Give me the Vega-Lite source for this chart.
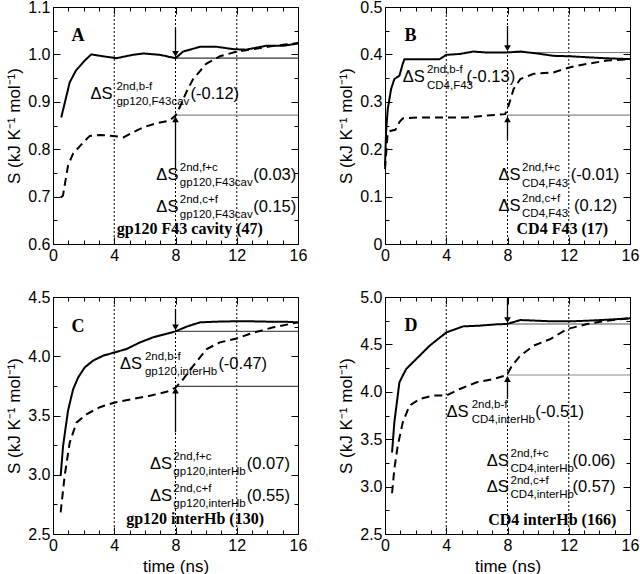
{
"$schema":"https://vega.github.io/schema/vega-lite/v6.json",
"padding":{"left":5,"top":-2,"right":0,"bottom":0},
"config":{"view":{"stroke":"black","strokeWidth":1},
"axis":{"grid":false,"domainColor":"black","tickColor":"black","labelColor":"black","labelFont":"Liberation Sans","labelFontSize":16,"titleFont":"Liberation Sans","titleFontSize":17,"titleFontWeight":"normal","titleColor":"black","domainWidth":1,"tickWidth":1,"labelOverlap":false,"labelBound":false,"labelFlush":false}},
"datasets":{
"vr":[{"t":4},{"t":8},{"t":12}],
"hl":[{"p":"A","k":"upper","t":8,"t2":16,"s":0.992},{"p":"A","k":"lower","t":8,"t2":16,"s":0.872},
{"p":"B","k":"upper","t":8,"t2":16,"s":0.404},{"p":"B","k":"lower","t":8,"t2":16,"s":0.272},
{"p":"C","k":"upper","t":8,"t2":16,"s":4.21},{"p":"C","k":"lower","t":8,"t2":16,"s":3.745},
{"p":"D","k":"upper","t":8,"t2":16,"s":4.715},{"p":"D","k":"lower","t":8,"t2":16,"s":4.177}],
"arr":[{"p":"A","dir":"down","t":8,"s":1.057,"s2":1.001},{"p":"A","dir":"up","t":8,"s":0.758,"s2":0.863},
{"p":"B","dir":"down","t":8,"s":0.46,"s2":0.413},{"p":"B","dir":"up","t":8,"s":0.221,"s2":0.263},
{"p":"C","dir":"down","t":8,"s":4.4,"s2":4.244},{"p":"C","dir":"up","t":8,"s":3.358,"s2":3.71},
{"p":"D","dir":"down","t":8,"s":4.98,"s2":4.757},{"p":"D","dir":"up","t":8,"s":3.924,"s2":4.135}],
"curves":[
{"p":"A","k":"solid","t":0.54,"s":0.867},{"p":"A","k":"solid","t":1.09,"s":0.941},{"p":"A","k":"solid","t":1.5,"s":0.966},{"p":"A","k":"solid","t":2.07,"s":0.987},{"p":"A","k":"solid","t":2.5,"s":1.0},{"p":"A","k":"solid","t":3.27,"s":0.996},{"p":"A","k":"solid","t":4.14,"s":0.992},{"p":"A","k":"solid","t":5.2,"s":0.999},{"p":"A","k":"solid","t":5.9,"s":1.002},{"p":"A","k":"solid","t":7.0,"s":0.999},{"p":"A","k":"solid","t":8.0,"s":0.992},{"p":"A","k":"solid","t":8.5,"s":1.006},{"p":"A","k":"solid","t":9.6,"s":1.016},{"p":"A","k":"solid","t":10.7,"s":1.016},{"p":"A","k":"solid","t":11.8,"s":1.011},{"p":"A","k":"solid","t":12.6,"s":1.01},{"p":"A","k":"solid","t":13.9,"s":1.018},{"p":"A","k":"solid","t":15.0,"s":1.018},{"p":"A","k":"solid","t":16,"s":1.023},
{"p":"A","k":"dashed","t":0.5,"s":0.698},{"p":"A","k":"dashed","t":0.65,"s":0.702},{"p":"A","k":"dashed","t":0.98,"s":0.765},{"p":"A","k":"dashed","t":1.3,"s":0.79},{"p":"A","k":"dashed","t":1.96,"s":0.814},{"p":"A","k":"dashed","t":2.4,"s":0.828},{"p":"A","k":"dashed","t":3.05,"s":0.83},{"p":"A","k":"dashed","t":3.9,"s":0.828},{"p":"A","k":"dashed","t":4.6,"s":0.825},{"p":"A","k":"dashed","t":5.2,"s":0.835},{"p":"A","k":"dashed","t":5.9,"s":0.846},{"p":"A","k":"dashed","t":6.75,"s":0.855},{"p":"A","k":"dashed","t":7.6,"s":0.86},{"p":"A","k":"dashed","t":8.0,"s":0.871},{"p":"A","k":"dashed","t":8.3,"s":0.89},{"p":"A","k":"dashed","t":8.7,"s":0.92},{"p":"A","k":"dashed","t":9.15,"s":0.948},{"p":"A","k":"dashed","t":10.0,"s":0.98},{"p":"A","k":"dashed","t":10.9,"s":0.996},{"p":"A","k":"dashed","t":12.0,"s":1.006},{"p":"A","k":"dashed","t":13.1,"s":1.011},{"p":"A","k":"dashed","t":14.4,"s":1.018},{"p":"A","k":"dashed","t":16,"s":1.024},
{"p":"B","k":"solid","t":0,"s":0.165},{"p":"B","k":"solid","t":0.07,"s":0.236},{"p":"B","k":"solid","t":0.18,"s":0.285},{"p":"B","k":"solid","t":0.4,"s":0.327},{"p":"B","k":"solid","t":0.61,"s":0.348},{"p":"B","k":"solid","t":0.94,"s":0.355},{"p":"B","k":"solid","t":1.16,"s":0.38},{"p":"B","k":"solid","t":1.27,"s":0.39},{"p":"B","k":"solid","t":1.8,"s":0.39},{"p":"B","k":"solid","t":2.7,"s":0.39},{"p":"B","k":"solid","t":3.57,"s":0.39},{"p":"B","k":"solid","t":4.0,"s":0.399},{"p":"B","k":"solid","t":4.9,"s":0.401},{"p":"B","k":"solid","t":5.77,"s":0.406},{"p":"B","k":"solid","t":6.6,"s":0.404},{"p":"B","k":"solid","t":7.96,"s":0.404},{"p":"B","k":"solid","t":8.84,"s":0.406},{"p":"B","k":"solid","t":9.93,"s":0.402},{"p":"B","k":"solid","t":11.0,"s":0.397},{"p":"B","k":"solid","t":12.1,"s":0.396},{"p":"B","k":"solid","t":13.2,"s":0.394},{"p":"B","k":"solid","t":14.3,"s":0.392},{"p":"B","k":"solid","t":16,"s":0.39},
{"p":"B","k":"dashed","t":0,"s":0.158},{"p":"B","k":"dashed","t":0.18,"s":0.236},{"p":"B","k":"dashed","t":0.4,"s":0.239},{"p":"B","k":"dashed","t":0.68,"s":0.241},{"p":"B","k":"dashed","t":0.94,"s":0.257},{"p":"B","k":"dashed","t":1.16,"s":0.265},{"p":"B","k":"dashed","t":2.26,"s":0.267},{"p":"B","k":"dashed","t":4.0,"s":0.267},{"p":"B","k":"dashed","t":5.33,"s":0.267},{"p":"B","k":"dashed","t":6.6,"s":0.271},{"p":"B","k":"dashed","t":7.85,"s":0.274},{"p":"B","k":"dashed","t":8.07,"s":0.292},{"p":"B","k":"dashed","t":8.4,"s":0.327},{"p":"B","k":"dashed","t":8.84,"s":0.348},{"p":"B","k":"dashed","t":9.7,"s":0.359},{"p":"B","k":"dashed","t":11.0,"s":0.362},{"p":"B","k":"dashed","t":12.1,"s":0.373},{"p":"B","k":"dashed","t":13.2,"s":0.38},{"p":"B","k":"dashed","t":14.5,"s":0.387},{"p":"B","k":"dashed","t":16,"s":0.39},
{"p":"C","k":"solid","t":0.5,"s":2.99},{"p":"C","k":"solid","t":0.66,"s":3.245},{"p":"C","k":"solid","t":0.98,"s":3.54},{"p":"C","k":"solid","t":1.31,"s":3.72},{"p":"C","k":"solid","t":1.64,"s":3.82},{"p":"C","k":"solid","t":2.07,"s":3.906},{"p":"C","k":"solid","t":2.62,"s":3.963},{"p":"C","k":"solid","t":3.28,"s":4.005},{"p":"C","k":"solid","t":4.04,"s":4.033},{"p":"C","k":"solid","t":4.8,"s":4.061},{"p":"C","k":"solid","t":5.68,"s":4.117},{"p":"C","k":"solid","t":6.55,"s":4.16},{"p":"C","k":"solid","t":7.42,"s":4.19},{"p":"C","k":"solid","t":8.0,"s":4.21},{"p":"C","k":"solid","t":8.73,"s":4.25},{"p":"C","k":"solid","t":9.6,"s":4.286},{"p":"C","k":"solid","t":10.7,"s":4.292},{"p":"C","k":"solid","t":11.8,"s":4.295},{"p":"C","k":"solid","t":12.9,"s":4.295},{"p":"C","k":"solid","t":14.0,"s":4.292},{"p":"C","k":"solid","t":15.1,"s":4.292},{"p":"C","k":"solid","t":16,"s":4.286},
{"p":"C","k":"dashed","t":0.5,"s":2.683},{"p":"C","k":"dashed","t":0.76,"s":2.99},{"p":"C","k":"dashed","t":1.09,"s":3.27},{"p":"C","k":"dashed","t":1.53,"s":3.44},{"p":"C","k":"dashed","t":2.18,"s":3.51},{"p":"C","k":"dashed","t":3.06,"s":3.57},{"p":"C","k":"dashed","t":4.04,"s":3.61},{"p":"C","k":"dashed","t":5.24,"s":3.64},{"p":"C","k":"dashed","t":6.33,"s":3.667},{"p":"C","k":"dashed","t":7.42,"s":3.7},{"p":"C","k":"dashed","t":8.0,"s":3.735},{"p":"C","k":"dashed","t":8.4,"s":3.79},{"p":"C","k":"dashed","t":9.17,"s":3.92},{"p":"C","k":"dashed","t":10.04,"s":4.061},{"p":"C","k":"dashed","t":10.9,"s":4.117},{"p":"C","k":"dashed","t":12.0,"s":4.15},{"p":"C","k":"dashed","t":13.1,"s":4.2},{"p":"C","k":"dashed","t":14.4,"s":4.244},{"p":"C","k":"dashed","t":16,"s":4.286},
{"p":"D","k":"solid","t":0.46,"s":3.36},{"p":"D","k":"solid","t":0.61,"s":3.678},{"p":"D","k":"solid","t":0.94,"s":4.1},{"p":"D","k":"solid","t":1.38,"s":4.24},{"p":"D","k":"solid","t":2.04,"s":4.346},{"p":"D","k":"solid","t":2.92,"s":4.487},{"p":"D","k":"solid","t":4.01,"s":4.627},{"p":"D","k":"solid","t":5.1,"s":4.69},{"p":"D","k":"solid","t":6.2,"s":4.698},{"p":"D","k":"solid","t":7.3,"s":4.712},{"p":"D","k":"solid","t":7.96,"s":4.715},{"p":"D","k":"solid","t":8.84,"s":4.757},{"p":"D","k":"solid","t":9.93,"s":4.75},{"p":"D","k":"solid","t":11.0,"s":4.743},{"p":"D","k":"solid","t":12.1,"s":4.743},{"p":"D","k":"solid","t":13.2,"s":4.75},{"p":"D","k":"solid","t":14.5,"s":4.76},{"p":"D","k":"solid","t":16,"s":4.775},
{"p":"D","k":"dashed","t":0.46,"s":2.93},{"p":"D","k":"dashed","t":0.61,"s":3.186},{"p":"D","k":"dashed","t":0.83,"s":3.43},{"p":"D","k":"dashed","t":1.16,"s":3.678},{"p":"D","k":"dashed","t":1.6,"s":3.854},{"p":"D","k":"dashed","t":2.26,"s":3.924},{"p":"D","k":"dashed","t":3.14,"s":3.96},{"p":"D","k":"dashed","t":4.01,"s":3.96},{"p":"D","k":"dashed","t":4.89,"s":4.03},{"p":"D","k":"dashed","t":5.99,"s":4.1},{"p":"D","k":"dashed","t":7.08,"s":4.135},{"p":"D","k":"dashed","t":7.96,"s":4.177},{"p":"D","k":"dashed","t":8.29,"s":4.276},{"p":"D","k":"dashed","t":8.84,"s":4.381},{"p":"D","k":"dashed","t":9.71,"s":4.487},{"p":"D","k":"dashed","t":10.8,"s":4.557},{"p":"D","k":"dashed","t":11.9,"s":4.662},{"p":"D","k":"dashed","t":13.2,"s":4.715},{"p":"D","k":"dashed","t":14.5,"s":4.75},{"p":"D","k":"dashed","t":16,"s":4.775}],
"txt":[
{"p":"A","kind":"big","t":2.45,"s":0.906,"label":"ΔS"},{"p":"A","kind":"big","t":8.98,"s":0.906,"label":"(-0.12)"},{"p":"A","kind":"big","t":6.75,"s":0.735,"label":"ΔS"},{"p":"A","kind":"big","t":13.07,"s":0.735,"label":"(0.03)"},{"p":"A","kind":"big","t":6.75,"s":0.667,"label":"ΔS"},{"p":"A","kind":"big","t":13.07,"s":0.667,"label":"(0.15)"},
{"p":"A","kind":"script","t":4.14,"s":0.925,"label":"2nd,b-f"},{"p":"A","kind":"script","t":4.14,"s":0.893,"label":"gp120,F43cav"},{"p":"A","kind":"script","t":8.28,"s":0.754,"label":"2nd,f+c"},{"p":"A","kind":"script","t":8.28,"s":0.722,"label":"gp120,F43cav"},{"p":"A","kind":"script","t":8.28,"s":0.686,"label":"2nd,c+f"},{"p":"A","kind":"script","t":8.28,"s":0.654,"label":"gp120,F43cav"},
{"p":"A","kind":"title","t":8.93,"s":0.621,"label":"gp120 F43 cavity (47)"},{"p":"A","kind":"letter","t":1.2,"s":1.029,"label":"A"},
{"p":"B","kind":"big","t":1.16,"s":0.341,"label":"ΔS"},{"p":"B","kind":"big","t":5.33,"s":0.341,"label":"(-0.13)"},{"p":"B","kind":"big","t":7.41,"s":0.134,"label":"ΔS"},{"p":"B","kind":"big","t":12.13,"s":0.134,"label":"(-0.01)"},{"p":"B","kind":"big","t":7.41,"s":0.07,"label":"ΔS"},{"p":"B","kind":"big","t":12.35,"s":0.07,"label":"(0.12)"},
{"p":"B","kind":"script","t":2.74,"s":0.36,"label":"2nd,b-f"},{"p":"B","kind":"script","t":2.74,"s":0.328,"label":"CD4,F43"},{"p":"B","kind":"script","t":8.95,"s":0.153,"label":"2nd,f+c"},{"p":"B","kind":"script","t":8.95,"s":0.121,"label":"CD4,F43"},{"p":"B","kind":"script","t":8.95,"s":0.089,"label":"2nd,c+f"},{"p":"B","kind":"script","t":8.95,"s":0.057,"label":"CD4,F43"},
{"p":"B","kind":"title","t":11.58,"s":0.021,"label":"CD4 F43 (17)"},{"p":"B","kind":"letter","t":1.27,"s":0.429,"label":"B"},
{"p":"C","kind":"big","t":4.37,"s":3.892,"label":"ΔS"},{"p":"C","kind":"big","t":10.8,"s":3.892,"label":"(-0.47)"},{"p":"C","kind":"big","t":6.33,"s":3.048,"label":"ΔS"},{"p":"C","kind":"big","t":12.66,"s":3.048,"label":"(0.07)"},{"p":"C","kind":"big","t":6.33,"s":2.78,"label":"ΔS"},{"p":"C","kind":"big","t":12.66,"s":2.78,"label":"(0.55)"},
{"p":"C","kind":"script","t":6.0,"s":3.968,"label":"2nd,b-f"},{"p":"C","kind":"script","t":6.0,"s":3.841,"label":"gp120,interHb"},{"p":"C","kind":"script","t":7.86,"s":3.124,"label":"2nd,f+c"},{"p":"C","kind":"script","t":7.86,"s":2.997,"label":"gp120,interHb"},{"p":"C","kind":"script","t":7.86,"s":2.856,"label":"2nd,c+f"},{"p":"C","kind":"script","t":7.86,"s":2.729,"label":"gp120,interHb"},
{"p":"C","kind":"title","t":9.28,"s":2.584,"label":"gp120 interHb (130)"},{"p":"C","kind":"letter","t":1.2,"s":4.207,"label":"C"},
{"p":"D","kind":"big","t":4.01,"s":3.73,"label":"ΔS"},{"p":"D","kind":"big","t":9.82,"s":3.73,"label":"(-0.51)"},{"p":"D","kind":"big","t":6.64,"s":3.217,"label":"ΔS"},{"p":"D","kind":"big","t":12.24,"s":3.217,"label":"(0.06)"},{"p":"D","kind":"big","t":6.64,"s":2.943,"label":"ΔS"},{"p":"D","kind":"big","t":12.24,"s":2.943,"label":"(0.57)"},
{"p":"D","kind":"script","t":5.66,"s":3.825,"label":"2nd,b-f"},{"p":"D","kind":"script","t":5.66,"s":3.667,"label":"CD4,interHb"},{"p":"D","kind":"script","t":8.2,"s":3.31,"label":"2nd,f+c"},{"p":"D","kind":"script","t":8.2,"s":3.154,"label":"CD4,interHb"},{"p":"D","kind":"script","t":8.2,"s":3.03,"label":"2nd,c+f"},{"p":"D","kind":"script","t":8.2,"s":2.88,"label":"CD4,interHb"},
{"p":"D","kind":"title","t":10.92,"s":2.6,"label":"CD4 interHb (166)"},{"p":"D","kind":"letter","t":1.27,"s":4.645,"label":"D"}]
},
"columns":2,
"spacing":{"row":21,"column":29},
"concat":[
{"width":245,"height":237,"resolve":{"axis":{"x":"independent","y":"independent"}},
"layer":[
{"data":{"name":"vr"},"mark":{"type":"rule","strokeDash":[2,2],"strokeWidth":1,"color":"black"},"encoding":{"x":{"field":"t","type":"quantitative","axis":{"orient":"top","title":null,"values":[0,1,2,3,4,5,6,7,8,9,10,11,12,13,14,15,16],"labels":false,"domain":false,"tickSize":{"condition":{"test":"datum.value % 4 === 0","value":-7},"value":-4}}}}},
{"data":{"name":"hl"},"transform":[{"filter":"datum.p=='A'"}],"mark":{"type":"rule","strokeWidth":1.2},"encoding":{"x":{"field":"t","type":"quantitative","axis":null},"x2":{"field":"t2"},"y":{"field":"s","type":"quantitative","axis":{"orient":"right","title":null,"values":[0.6,0.65,0.7,0.75,0.8,0.85,0.9,0.95,1,1.05,1.1],"labels":false,"domain":false,"tickSize":{"condition":{"test":"abs(datum.value*10 - round(datum.value*10)) < 1e-6","value":-7},"value":-4}}},"color":{"condition":{"test":"datum.k=='upper'","value":"#333333"},"value":"#888888"}}},
{"data":{"name":"curves"},"transform":[{"filter":"datum.p=='A'"}],"mark":{"type":"line","strokeWidth":2,"color":"black"},"encoding":{"x":{"field":"t","type":"quantitative","scale":{"domain":[0,16],"nice":false},"axis":{"orient":"bottom","title":null,"values":[0,1,2,3,4,5,6,7,8,9,10,11,12,13,14,15,16],"labelExpr":"datum.value % 4 === 0 ? datum.label : ''","tickSize":{"condition":{"test":"datum.value % 4 === 0","value":-7},"value":-4},"labelPadding":10}},"y":{"field":"s","type":"quantitative","scale":{"domain":[0.6,1.1],"nice":false,"zero":false},"axis":{"orient":"left","title":"S (kJ K⁻¹ mol⁻¹)","values":[0.6,0.65,0.7,0.75,0.8,0.85,0.9,0.95,1,1.05,1.1],"format":".1f","labelExpr":"abs(datum.value*10 - round(datum.value*10)) < 1e-6 ? datum.label : ''","tickSize":{"condition":{"test":"abs(datum.value*10 - round(datum.value*10)) < 1e-6","value":-7},"value":-4},"labelPadding":10}},"strokeDash":{"field":"k","type":"nominal","scale":{"domain":["solid","dashed"],"range":[[1,0],[8,5]]},"legend":null}}},
{"data":{"name":"arr"},"transform":[{"filter":"datum.p=='A'"}],"mark":{"type":"rule","strokeWidth":1.3,"color":"black"},"encoding":{"x":{"field":"t","type":"quantitative","axis":null},"y":{"field":"s","type":"quantitative","axis":null},"y2":{"field":"s2"}}},
{"data":{"name":"arr"},"transform":[{"filter":"datum.p=='A'"}],"mark":{"type":"point","filled":true,"color":"black","size":45,"opacity":1},"encoding":{"x":{"field":"t","type":"quantitative","axis":null},"y":{"field":"s2","type":"quantitative","axis":null},"shape":{"field":"dir","type":"nominal","scale":{"domain":["down","up"],"range":["triangle-down","triangle-up"]},"legend":null}}},
{"data":{"name":"txt"},"transform":[{"filter":"datum.p=='A' && datum.kind=='big'"}],"mark":{"type":"text","align":"left","baseline":"alphabetic","font":"Liberation Sans","fontSize":16.5,"color":"black"},"encoding":{"x":{"field":"t","type":"quantitative","axis":null},"y":{"field":"s","type":"quantitative","axis":null},"text":{"field":"label"}}},
{"data":{"name":"txt"},"transform":[{"filter":"datum.p=='A' && datum.kind=='script'"}],"mark":{"type":"text","align":"left","baseline":"alphabetic","font":"Liberation Sans","fontSize":11.5,"color":"black"},"encoding":{"x":{"field":"t","type":"quantitative","axis":null},"y":{"field":"s","type":"quantitative","axis":null},"text":{"field":"label"}}},
{"data":{"name":"txt"},"transform":[{"filter":"datum.p=='A' && datum.kind=='title'"}],"mark":{"type":"text","align":"center","baseline":"alphabetic","font":"Liberation Serif","fontWeight":"bold","fontSize":16,"color":"black"},"encoding":{"x":{"field":"t","type":"quantitative","axis":null},"y":{"field":"s","type":"quantitative","axis":null},"text":{"field":"label"}}},
{"data":{"name":"txt"},"transform":[{"filter":"datum.p=='A' && datum.kind=='letter'"}],"mark":{"type":"text","align":"left","baseline":"alphabetic","font":"Liberation Serif","fontWeight":"bold","fontSize":18,"color":"black"},"encoding":{"x":{"field":"t","type":"quantitative","axis":null},"y":{"field":"s","type":"quantitative","axis":null},"text":{"field":"label"}}}
]},
{"width":245,"height":237,"resolve":{"axis":{"x":"independent","y":"independent"}},
"layer":[
{"data":{"name":"vr"},"mark":{"type":"rule","strokeDash":[2,2],"strokeWidth":1,"color":"black"},"encoding":{"x":{"field":"t","type":"quantitative","axis":{"orient":"top","title":null,"values":[0,1,2,3,4,5,6,7,8,9,10,11,12,13,14,15,16],"labels":false,"domain":false,"tickSize":{"condition":{"test":"datum.value % 4 === 0","value":-7},"value":-4}}}}},
{"data":{"name":"hl"},"transform":[{"filter":"datum.p=='B'"}],"mark":{"type":"rule","strokeWidth":1.2},"encoding":{"x":{"field":"t","type":"quantitative","axis":null},"x2":{"field":"t2"},"y":{"field":"s","type":"quantitative","axis":{"orient":"right","title":null,"values":[0,0.05,0.1,0.15,0.2,0.25,0.3,0.35,0.4,0.45,0.5],"labels":false,"domain":false,"tickSize":{"condition":{"test":"abs(datum.value*10 - round(datum.value*10)) < 1e-6","value":-7},"value":-4}}},"color":{"condition":{"test":"datum.k=='upper'","value":"#777777"},"value":"#888888"}}},
{"data":{"name":"curves"},"transform":[{"filter":"datum.p=='B'"}],"mark":{"type":"line","strokeWidth":2,"color":"black"},"encoding":{"x":{"field":"t","type":"quantitative","scale":{"domain":[0,16],"nice":false},"axis":{"orient":"bottom","title":null,"values":[0,1,2,3,4,5,6,7,8,9,10,11,12,13,14,15,16],"labelExpr":"datum.value % 4 === 0 ? datum.label : ''","tickSize":{"condition":{"test":"datum.value % 4 === 0","value":-7},"value":-4},"labelPadding":10}},"y":{"field":"s","type":"quantitative","scale":{"domain":[0,0.5],"nice":false,"zero":false},"axis":{"orient":"left","title":"S (kJ K⁻¹ mol⁻¹)","values":[0,0.05,0.1,0.15,0.2,0.25,0.3,0.35,0.4,0.45,0.5],"format":".1f","labelExpr":"datum.value == 0 ? '0' : (abs(datum.value*10 - round(datum.value*10)) < 1e-6 ? datum.label : '')","tickSize":{"condition":{"test":"abs(datum.value*10 - round(datum.value*10)) < 1e-6","value":-7},"value":-4},"labelPadding":10}},"strokeDash":{"field":"k","type":"nominal","scale":{"domain":["solid","dashed"],"range":[[1,0],[8,5]]},"legend":null}}},
{"data":{"name":"arr"},"transform":[{"filter":"datum.p=='B'"}],"mark":{"type":"rule","strokeWidth":1.3,"color":"black"},"encoding":{"x":{"field":"t","type":"quantitative","axis":null},"y":{"field":"s","type":"quantitative","axis":null},"y2":{"field":"s2"}}},
{"data":{"name":"arr"},"transform":[{"filter":"datum.p=='B'"}],"mark":{"type":"point","filled":true,"color":"black","size":45,"opacity":1},"encoding":{"x":{"field":"t","type":"quantitative","axis":null},"y":{"field":"s2","type":"quantitative","axis":null},"shape":{"field":"dir","type":"nominal","scale":{"domain":["down","up"],"range":["triangle-down","triangle-up"]},"legend":null}}},
{"data":{"name":"txt"},"transform":[{"filter":"datum.p=='B' && datum.kind=='big'"}],"mark":{"type":"text","align":"left","baseline":"alphabetic","font":"Liberation Sans","fontSize":16.5,"color":"black"},"encoding":{"x":{"field":"t","type":"quantitative","axis":null},"y":{"field":"s","type":"quantitative","axis":null},"text":{"field":"label"}}},
{"data":{"name":"txt"},"transform":[{"filter":"datum.p=='B' && datum.kind=='script'"}],"mark":{"type":"text","align":"left","baseline":"alphabetic","font":"Liberation Sans","fontSize":11.5,"color":"black"},"encoding":{"x":{"field":"t","type":"quantitative","axis":null},"y":{"field":"s","type":"quantitative","axis":null},"text":{"field":"label"}}},
{"data":{"name":"txt"},"transform":[{"filter":"datum.p=='B' && datum.kind=='title'"}],"mark":{"type":"text","align":"center","baseline":"alphabetic","font":"Liberation Serif","fontWeight":"bold","fontSize":16,"color":"black"},"encoding":{"x":{"field":"t","type":"quantitative","axis":null},"y":{"field":"s","type":"quantitative","axis":null},"text":{"field":"label"}}},
{"data":{"name":"txt"},"transform":[{"filter":"datum.p=='B' && datum.kind=='letter'"}],"mark":{"type":"text","align":"left","baseline":"alphabetic","font":"Liberation Serif","fontWeight":"bold","fontSize":18,"color":"black"},"encoding":{"x":{"field":"t","type":"quantitative","axis":null},"y":{"field":"s","type":"quantitative","axis":null},"text":{"field":"label"}}}
]},
{"width":245,"height":237,"resolve":{"axis":{"x":"independent","y":"independent"}},
"layer":[
{"data":{"name":"vr"},"mark":{"type":"rule","strokeDash":[2,2],"strokeWidth":1,"color":"black"},"encoding":{"x":{"field":"t","type":"quantitative","axis":{"orient":"top","title":null,"values":[0,1,2,3,4,5,6,7,8,9,10,11,12,13,14,15,16],"labels":false,"domain":false,"tickSize":{"condition":{"test":"datum.value % 4 === 0","value":-7},"value":-4}}}}},
{"data":{"name":"hl"},"transform":[{"filter":"datum.p=='C'"}],"mark":{"type":"rule","strokeWidth":1.2},"encoding":{"x":{"field":"t","type":"quantitative","axis":null},"x2":{"field":"t2"},"y":{"field":"s","type":"quantitative","axis":{"orient":"right","title":null,"values":[2.5,2.75,3,3.25,3.5,3.75,4,4.25,4.5],"labels":false,"domain":false,"tickSize":{"condition":{"test":"abs(datum.value*2 - round(datum.value*2)) < 1e-6","value":-7},"value":-4}}},"color":{"condition":{"test":"datum.k=='upper'","value":"#555555"},"value":"#444444"}}},
{"data":{"name":"curves"},"transform":[{"filter":"datum.p=='C'"}],"mark":{"type":"line","strokeWidth":2,"color":"black"},"encoding":{"x":{"field":"t","type":"quantitative","scale":{"domain":[0,16],"nice":false},"axis":{"orient":"bottom","title":"time (ns)","titlePadding":2,"values":[0,1,2,3,4,5,6,7,8,9,10,11,12,13,14,15,16],"labelExpr":"datum.value % 4 === 0 ? datum.label : ''","tickSize":{"condition":{"test":"datum.value % 4 === 0","value":-7},"value":-4},"labelPadding":10}},"y":{"field":"s","type":"quantitative","scale":{"domain":[2.5,4.5],"nice":false,"zero":false},"axis":{"orient":"left","title":"S (kJ K⁻¹ mol⁻¹)","values":[2.5,2.75,3,3.25,3.5,3.75,4,4.25,4.5],"format":".1f","labelExpr":"abs(datum.value*2 - round(datum.value*2)) < 1e-6 ? datum.label : ''","tickSize":{"condition":{"test":"abs(datum.value*2 - round(datum.value*2)) < 1e-6","value":-7},"value":-4},"labelPadding":10}},"strokeDash":{"field":"k","type":"nominal","scale":{"domain":["solid","dashed"],"range":[[1,0],[8,5]]},"legend":null}}},
{"data":{"name":"arr"},"transform":[{"filter":"datum.p=='C'"}],"mark":{"type":"rule","strokeWidth":1.3,"color":"black"},"encoding":{"x":{"field":"t","type":"quantitative","axis":null},"y":{"field":"s","type":"quantitative","axis":null},"y2":{"field":"s2"}}},
{"data":{"name":"arr"},"transform":[{"filter":"datum.p=='C'"}],"mark":{"type":"point","filled":true,"color":"black","size":45,"opacity":1},"encoding":{"x":{"field":"t","type":"quantitative","axis":null},"y":{"field":"s2","type":"quantitative","axis":null},"shape":{"field":"dir","type":"nominal","scale":{"domain":["down","up"],"range":["triangle-down","triangle-up"]},"legend":null}}},
{"data":{"name":"txt"},"transform":[{"filter":"datum.p=='C' && datum.kind=='big'"}],"mark":{"type":"text","align":"left","baseline":"alphabetic","font":"Liberation Sans","fontSize":16.5,"color":"black"},"encoding":{"x":{"field":"t","type":"quantitative","axis":null},"y":{"field":"s","type":"quantitative","axis":null},"text":{"field":"label"}}},
{"data":{"name":"txt"},"transform":[{"filter":"datum.p=='C' && datum.kind=='script'"}],"mark":{"type":"text","align":"left","baseline":"alphabetic","font":"Liberation Sans","fontSize":11.5,"color":"black"},"encoding":{"x":{"field":"t","type":"quantitative","axis":null},"y":{"field":"s","type":"quantitative","axis":null},"text":{"field":"label"}}},
{"data":{"name":"txt"},"transform":[{"filter":"datum.p=='C' && datum.kind=='title'"}],"mark":{"type":"text","align":"center","baseline":"alphabetic","font":"Liberation Serif","fontWeight":"bold","fontSize":16,"color":"black"},"encoding":{"x":{"field":"t","type":"quantitative","axis":null},"y":{"field":"s","type":"quantitative","axis":null},"text":{"field":"label"}}},
{"data":{"name":"txt"},"transform":[{"filter":"datum.p=='C' && datum.kind=='letter'"}],"mark":{"type":"text","align":"left","baseline":"alphabetic","font":"Liberation Serif","fontWeight":"bold","fontSize":18,"color":"black"},"encoding":{"x":{"field":"t","type":"quantitative","axis":null},"y":{"field":"s","type":"quantitative","axis":null},"text":{"field":"label"}}}
]},
{"width":245,"height":237,"resolve":{"axis":{"x":"independent","y":"independent"}},
"layer":[
{"data":{"name":"vr"},"mark":{"type":"rule","strokeDash":[2,2],"strokeWidth":1,"color":"black"},"encoding":{"x":{"field":"t","type":"quantitative","axis":{"orient":"top","title":null,"values":[0,1,2,3,4,5,6,7,8,9,10,11,12,13,14,15,16],"labels":false,"domain":false,"tickSize":{"condition":{"test":"datum.value % 4 === 0","value":-7},"value":-4}}}}},
{"data":{"name":"hl"},"transform":[{"filter":"datum.p=='D'"}],"mark":{"type":"rule","strokeWidth":1.2},"encoding":{"x":{"field":"t","type":"quantitative","axis":null},"x2":{"field":"t2"},"y":{"field":"s","type":"quantitative","axis":{"orient":"right","title":null,"values":[2.5,2.75,3,3.25,3.5,3.75,4,4.25,4.5,4.75,5],"labels":false,"domain":false,"tickSize":{"condition":{"test":"abs(datum.value*2 - round(datum.value*2)) < 1e-6","value":-7},"value":-4}}},"color":{"condition":{"test":"datum.k=='upper'","value":"#555555"},"value":"#888888"}}},
{"data":{"name":"curves"},"transform":[{"filter":"datum.p=='D'"}],"mark":{"type":"line","strokeWidth":2,"color":"black"},"encoding":{"x":{"field":"t","type":"quantitative","scale":{"domain":[0,16],"nice":false},"axis":{"orient":"bottom","title":"time (ns)","titlePadding":2,"values":[0,1,2,3,4,5,6,7,8,9,10,11,12,13,14,15,16],"labelExpr":"datum.value % 4 === 0 ? datum.label : ''","tickSize":{"condition":{"test":"datum.value % 4 === 0","value":-7},"value":-4},"labelPadding":10}},"y":{"field":"s","type":"quantitative","scale":{"domain":[2.5,5],"nice":false,"zero":false},"axis":{"orient":"left","title":"S (kJ K⁻¹ mol⁻¹)","values":[2.5,2.75,3,3.25,3.5,3.75,4,4.25,4.5,4.75,5],"format":".1f","labelExpr":"abs(datum.value*2 - round(datum.value*2)) < 1e-6 ? datum.label : ''","tickSize":{"condition":{"test":"abs(datum.value*2 - round(datum.value*2)) < 1e-6","value":-7},"value":-4},"labelPadding":10}},"strokeDash":{"field":"k","type":"nominal","scale":{"domain":["solid","dashed"],"range":[[1,0],[8,5]]},"legend":null}}},
{"data":{"name":"arr"},"transform":[{"filter":"datum.p=='D'"}],"mark":{"type":"rule","strokeWidth":1.3,"color":"black"},"encoding":{"x":{"field":"t","type":"quantitative","axis":null},"y":{"field":"s","type":"quantitative","axis":null},"y2":{"field":"s2"}}},
{"data":{"name":"arr"},"transform":[{"filter":"datum.p=='D'"}],"mark":{"type":"point","filled":true,"color":"black","size":45,"opacity":1},"encoding":{"x":{"field":"t","type":"quantitative","axis":null},"y":{"field":"s2","type":"quantitative","axis":null},"shape":{"field":"dir","type":"nominal","scale":{"domain":["down","up"],"range":["triangle-down","triangle-up"]},"legend":null}}},
{"data":{"name":"txt"},"transform":[{"filter":"datum.p=='D' && datum.kind=='big'"}],"mark":{"type":"text","align":"left","baseline":"alphabetic","font":"Liberation Sans","fontSize":16.5,"color":"black"},"encoding":{"x":{"field":"t","type":"quantitative","axis":null},"y":{"field":"s","type":"quantitative","axis":null},"text":{"field":"label"}}},
{"data":{"name":"txt"},"transform":[{"filter":"datum.p=='D' && datum.kind=='script'"}],"mark":{"type":"text","align":"left","baseline":"alphabetic","font":"Liberation Sans","fontSize":11.5,"color":"black"},"encoding":{"x":{"field":"t","type":"quantitative","axis":null},"y":{"field":"s","type":"quantitative","axis":null},"text":{"field":"label"}}},
{"data":{"name":"txt"},"transform":[{"filter":"datum.p=='D' && datum.kind=='title'"}],"mark":{"type":"text","align":"center","baseline":"alphabetic","font":"Liberation Serif","fontWeight":"bold","fontSize":16,"color":"black"},"encoding":{"x":{"field":"t","type":"quantitative","axis":null},"y":{"field":"s","type":"quantitative","axis":null},"text":{"field":"label"}}},
{"data":{"name":"txt"},"transform":[{"filter":"datum.p=='D' && datum.kind=='letter'"}],"mark":{"type":"text","align":"left","baseline":"alphabetic","font":"Liberation Serif","fontWeight":"bold","fontSize":18,"color":"black"},"encoding":{"x":{"field":"t","type":"quantitative","axis":null},"y":{"field":"s","type":"quantitative","axis":null},"text":{"field":"label"}}}
]}
]
}
